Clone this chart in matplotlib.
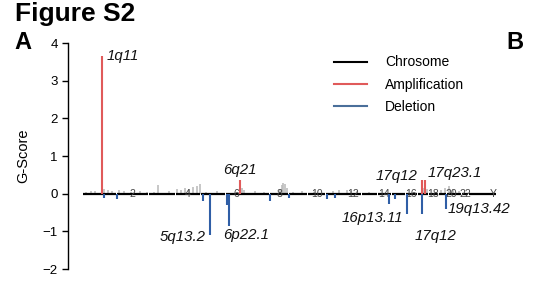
import matplotlib
matplotlib.use("Agg")
import matplotlib.pyplot as plt
from matplotlib.lines import Line2D

plt.rcParams["font.family"] = ["Liberation Sans", "DejaVu Sans"]

# chromosome lengths (Mb)
chroms = ["1", "2", "3", "4", "5", "6", "7", "8", "9", "10", "11", "12",
          "13", "14", "15", "16", "17", "18", "19", "20", "21", "22", "X", "Y"]
chrom_len = [249, 243, 198, 191, 181, 171, 159, 146, 141, 136, 135, 134,
             115, 107, 103, 90, 81, 78, 59, 63, 48, 51, 155, 59]
shown_labels = ["2", "4", "6", "8", "10", "12", "14", "16", "18", "20", "22", "Y"]

# significant amplifications (chrom, position Mb, G-score)
amp_chrom = ["1", "6", "17", "17"]
amp_pos = [145, 108, 37, 58]
amp_score = [3.65, 0.35, 0.37, 0.37]

# deletions
del_chrom = ["1", "2", "5", "5", "6", "6", "8", "9", "11", "11", "14", "15",
             "16", "17", "19"]
del_pos = [157, 5, 15, 70, 12, 28, 5, 3, 10, 68, 88, 26, 15, 37, 55]
del_score = [-0.12, -0.15, -0.2, -1.1, -0.3, -0.87, -0.2, -0.12, -0.15, -0.12,
             -0.28, -0.15, -0.55, -0.55, -0.4]

# non-significant amplification signal (grey)
grey_chrom = ["1", "1", "1", "1", "1", "1", "2", "2", "2", "2", "2",
              "3", "3", "3", "4", "4", "4", "4", "4", "4", "4", "5", "5",
              "6", "6", "6", "7", "7", "8", "8", "8", "8", "8", "9", "9",
              "10", "11", "11", "12", "12", "12", "13", "17", "17", "19", "19",
              "20", "20", "21"]
grey_pos = [20, 60, 90, 160, 190, 220, 20, 60, 110, 180, 230,
            40, 68, 150, 10, 40, 70, 100, 130, 160, 185, 40, 120,
            115, 125, 140, 50, 120, 80, 95, 105, 118, 130, 30, 100,
            50, 50, 100, 20, 50, 100, 50, 45, 70, 20, 45,
            20, 50, 30]
grey_score = [0.05, 0.08, 0.06, 0.12, 0.1, 0.08, 0.1, 0.06, 0.05, 0.06, 0.05,
              0.05, 0.22, 0.07, 0.12, 0.1, 0.15, 0.12, 0.18, 0.2, 0.25, 0.05, 0.06,
              0.22, 0.15, 0.1, 0.06, 0.05, 0.12, 0.22, 0.28, 0.25, 0.15, 0.05, 0.06,
              0.05, 0.06, 0.1, 0.1, 0.08, 0.06, 0.05, 0.15, 0.12, 0.1, 0.15,
              0.2, 0.12, 0.08]

# peak labels
peak_names = ["1q11", "6q21", "5q13.2", "6p22.1", "16p13.11", "17q12", "17q23.1",
              "19q13.42", "17q12"]

starts = {}
s = 0
for c, l in zip(chroms, chrom_len):
    starts[c] = s
    s += l
total = s


def gpos(c, p):
    return starts[c] + p


red = "#e05a5a"
blue = "#2f5ea6"

fig = plt.figure(figsize=(5.34, 2.85), dpi=100)
ax = fig.add_axes([68 / 534, 1 - 269 / 285, (510 - 68) / 534, (269 - 43) / 285])

# grey background signal
ax.vlines([gpos(c, p) for c, p in zip(grey_chrom, grey_pos)], 0, grey_score,
          color="#bdbdbd", lw=1.2, zorder=1)

# chromosome baseline
for c, l in zip(chroms, chrom_len):
    ax.plot([starts[c] + 3, starts[c] + l - 3], [0, 0], color="black", lw=1.6,
            zorder=2, solid_capstyle="butt")
    if c in shown_labels:
        ax.text(starts[c] + l / 2, 0, c, ha="center", va="center", fontsize=7.5,
                color="#444444", zorder=3)

ax.vlines([gpos(c, p) for c, p in zip(amp_chrom, amp_pos)], 0, amp_score,
          color=red, lw=1.5, zorder=4)
ax.vlines([gpos(c, p) for c, p in zip(del_chrom, del_pos)], 0, del_score,
          color=blue, lw=1.5, zorder=4)

# annotations
lab_kw = dict(fontsize=10.8, style="italic", color="#111111")
ax.text(gpos("1", 145) + 30, 3.65, peak_names[0], ha="left", va="center", **lab_kw)
ax.text(gpos("6", 108), 0.45, peak_names[1], ha="center", va="bottom", **lab_kw)
ax.text(gpos("5", 70) - 35, -0.97, peak_names[2], ha="right", va="top", **lab_kw)
ax.text(gpos("6", 28) - 45, -0.9, peak_names[3], ha="left", va="top", **lab_kw)
ax.text(gpos("16", 15) - 30, -0.45, peak_names[4], ha="right", va="top", **lab_kw)
ax.text(gpos("17", 37) - 35, 0.27, peak_names[5], ha="right", va="bottom", **lab_kw)
ax.text(gpos("17", 58) + 20, 0.35, peak_names[6], ha="left", va="bottom", **lab_kw)
ax.text(gpos("19", 55) + 15, -0.22, peak_names[7], ha="left", va="top", **lab_kw)
ax.text(gpos("17", 37) - 60, -0.95, peak_names[8], ha="left", va="top", **lab_kw)

ax.set_xlim(-112, 3191)
ax.set_ylim(-2, 4)
ax.set_yticks([-2, -1, 0, 1, 2, 3, 4])
ax.tick_params(axis="y", labelsize=9.5, length=4, width=1)
ax.set_xticks([])
for side in ["top", "right", "bottom"]:
    ax.spines[side].set_visible(False)
ax.spines["left"].set_linewidth(1)
ax.set_ylabel("G-Score", fontsize=10.5, labelpad=9)

handles = [Line2D([], [], color="black", lw=1.5),
           Line2D([], [], color=red, lw=1.5),
           Line2D([], [], color="#4a6f9a", lw=1.5)]
fig.legend(handles, ["Chrosome", "Amplification", "Deletion"], loc="upper left",
           bbox_to_anchor=(321 / 534, 1 - 43 / 285), frameon=False, fontsize=10,
           handlelength=2.4, handletextpad=1.3, labelspacing=0.6)

fig.text(15 / 534, 1 - 2 / 285, "Figure S2", fontsize=19, fontweight="bold",
         ha="left", va="top")
fig.text(14 / 534, 1 - 31 / 285, "A", fontsize=17, fontweight="bold",
         ha="left", va="top")
fig.text(506 / 534, 1 - 31 / 285, "B", fontsize=17, fontweight="bold",
         ha="left", va="top")

fig.savefig("out.png", dpi=100)
